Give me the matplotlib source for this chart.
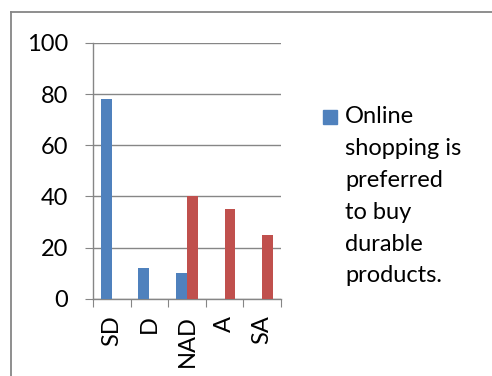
import matplotlib.pyplot as plt
from matplotlib.lines import Line2D
from matplotlib.patches import Rectangle
import numpy as np

# Survey answers and the share of respondents for each.
categories = ['SD', 'D', 'NAD', 'A', 'SA']
durable_label = 'Online\nshopping is\npreferred\nto buy\ndurable\nproducts.'
durable_values = [78, 12, 10, 0, 0]
second_values = [0, 0, 40, 35, 25]
y_ticks = [0, 20, 40, 60, 80, 100]

blue = '#4F81BD'
red = '#C0504D'
grey = '#868686'

plt.rcParams['font.family'] = ['Lato', 'DejaVu Sans']

fig = plt.figure(figsize=(4.92, 3.76), dpi=100)
ax = fig.add_axes([0.189, 0.205, 0.382, 0.681])

x = np.arange(len(categories))
width = 0.29
ax.bar(x - width / 2, durable_values, width, color=blue, zorder=3)
ax.bar(x + width / 2, second_values, width, color=red, zorder=3)

ax.set_xlim(-0.5, len(categories) - 0.5)
ax.set_ylim(0, 100)
ax.set_yticks(y_ticks)
ax.tick_params(axis='y', labelsize=17, length=6, color=grey, pad=12)

# Tick marks sit between the groups, labels at the group centres.
ax.set_xticks(np.arange(len(categories) + 1) - 0.5)
ax.set_xticklabels([])
ax.set_xticks(x, minor=True)
ax.set_xticklabels(categories, minor=True, rotation=90, fontsize=17)
ax.tick_params(axis='x', which='major', length=6, color=grey)
ax.tick_params(axis='x', which='minor', length=0, pad=12)

ax.grid(axis='y', color=grey, linewidth=1, zorder=0)
for side in ['top', 'right']:
    ax.spines[side].set_visible(False)
for side in ['left', 'bottom']:
    ax.spines[side].set_color(grey)
    ax.spines[side].set_linewidth(1)

# Legend for the blue series only.
fig.patches.append(Rectangle((323 / 492, 1 - 124 / 376), 14 / 492, 14 / 376,
                             transform=fig.transFigure, color=blue))
fig.text(345 / 492, 1 - 106 / 376, durable_label, fontsize=17,
         va='top', ha='left', linespacing=1.64)

# Chart border along the left and top.
fig.add_artist(Line2D([11 / 492, 11 / 492], [0, 1 - 12 / 376],
                      transform=fig.transFigure, color=grey, linewidth=1.3))
fig.add_artist(Line2D([11 / 492, 1], [1 - 12 / 376, 1 - 12 / 376],
                      transform=fig.transFigure, color=grey, linewidth=1.3))

fig.savefig('out.png', dpi=100)
